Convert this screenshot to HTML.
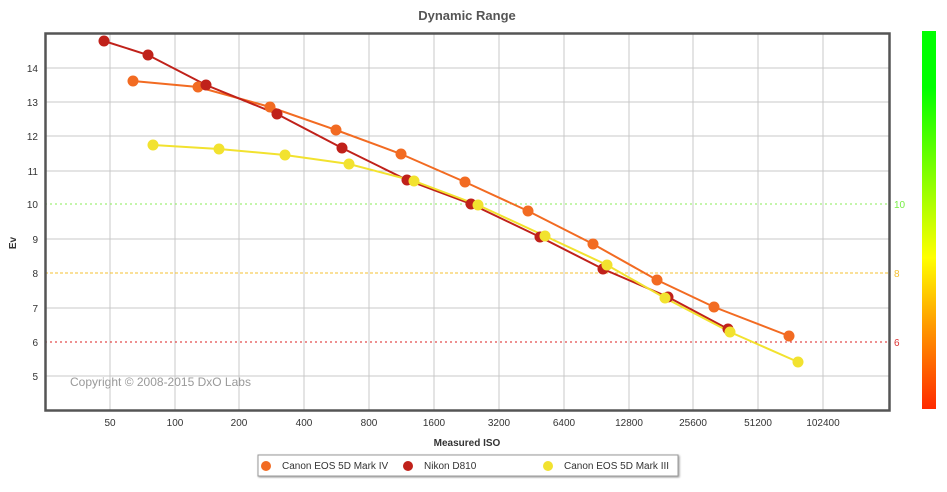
<!DOCTYPE html>
<html><head><style>
body{margin:0;background:#fff;}
svg{display:block;font-family:"Liberation Sans",sans-serif;}
</style></head><body>
<svg width="947" height="492" xmlns="http://www.w3.org/2000/svg">
<defs>
<linearGradient id="cb" x1="0" y1="0" x2="0" y2="1">
<stop offset="0" stop-color="#00ff00"/>
<stop offset="0.15" stop-color="#00ff00"/>
<stop offset="0.6" stop-color="#ffff00"/>
<stop offset="0.78" stop-color="#ff9a00"/>
<stop offset="1" stop-color="#ff2a00"/>
</linearGradient>
<filter id="sh"><feDropShadow dx="1" dy="1" stdDeviation="1" flood-opacity="0.4"/></filter>
</defs>
<text x="467" y="20" text-anchor="middle" font-size="13" font-weight="bold" fill="#555">Dynamic Range</text>
<g stroke="#c8c8c8" stroke-width="1">
<line x1="110" y1="33" x2="110" y2="410"/><line x1="175" y1="33" x2="175" y2="410"/>
<line x1="239" y1="33" x2="239" y2="410"/><line x1="304" y1="33" x2="304" y2="410"/>
<line x1="369" y1="33" x2="369" y2="410"/><line x1="434" y1="33" x2="434" y2="410"/>
<line x1="499" y1="33" x2="499" y2="410"/><line x1="564" y1="33" x2="564" y2="410"/>
<line x1="629" y1="33" x2="629" y2="410"/><line x1="693" y1="33" x2="693" y2="410"/>
<line x1="758" y1="33" x2="758" y2="410"/><line x1="823" y1="33" x2="823" y2="410"/>
<line x1="45" y1="68" x2="889" y2="68"/><line x1="45" y1="102" x2="889" y2="102"/>
<line x1="45" y1="136" x2="889" y2="136"/><line x1="45" y1="171" x2="889" y2="171"/>
<line x1="45" y1="239" x2="889" y2="239"/><line x1="45" y1="308" x2="889" y2="308"/>
<line x1="45" y1="376" x2="889" y2="376"/>
</g>
<line x1="45" y1="204" x2="889" y2="204" stroke="#88ee55" stroke-dasharray="2,3"/>
<line x1="45" y1="273" x2="889" y2="273" stroke="#f5c030" stroke-dasharray="3,2"/>
<line x1="45" y1="342" x2="889" y2="342" stroke="#dd2222" stroke-dasharray="2,3"/>
<g font-size="10" fill="#333" text-anchor="end">
<text x="38" y="72">14</text><text x="38" y="106">13</text><text x="38" y="140">12</text>
<text x="38" y="175">11</text><text x="38" y="208">10</text><text x="38" y="243">9</text>
<text x="38" y="277">8</text><text x="38" y="312">7</text><text x="38" y="346">6</text><text x="38" y="380">5</text>
</g>
<g font-size="10">
<text x="894" y="208" fill="#77ee44">10</text><text x="894" y="277" fill="#f5c030">8</text><text x="894" y="346" fill="#dd3333">6</text>
</g>
<g font-size="10" fill="#333" text-anchor="middle">
<text x="110" y="426">50</text><text x="175" y="426">100</text><text x="239" y="426">200</text>
<text x="304" y="426">400</text><text x="369" y="426">800</text><text x="434" y="426">1600</text>
<text x="499" y="426">3200</text><text x="564" y="426">6400</text><text x="629" y="426">12800</text>
<text x="693" y="426">25600</text><text x="758" y="426">51200</text><text x="823" y="426">102400</text>
</g>
<text x="467" y="446" text-anchor="middle" font-size="10" font-weight="bold" fill="#333">Measured ISO</text>
<text x="16" y="243" text-anchor="middle" font-size="10" font-weight="bold" fill="#333" transform="rotate(-90 16 243)">Ev</text>
<text x="70" y="386" font-size="12" fill="#999">Copyright © 2008-2015 DxO Labs</text>
<rect x="922" y="31" width="14" height="378" fill="url(#cb)"/>
<polyline fill="none" stroke="#f26b22" stroke-width="2" points="133,81 198,87 270,107 336,130 401,154 465,182 528,211 593,244 657,280 714,307 789,336"/>
<polyline fill="none" stroke="#c0211a" stroke-width="2" points="104,41 148,55 206,85 277,114 342,148 407,180 471,204 540,237 603,269 668,297 728,329"/>
<polyline fill="none" stroke="#f2e22f" stroke-width="2" points="153,145 219,149 285,155 349,164 414,181 478,205 545,236 607,265 665,298 730,332 798,362"/>
<g fill="#f26b22"><circle cx="133" cy="81" r="5.5"/><circle cx="198" cy="87" r="5.5"/><circle cx="270" cy="107" r="5.5"/><circle cx="336" cy="130" r="5.5"/><circle cx="401" cy="154" r="5.5"/><circle cx="465" cy="182" r="5.5"/><circle cx="528" cy="211" r="5.5"/><circle cx="593" cy="244" r="5.5"/><circle cx="657" cy="280" r="5.5"/><circle cx="714" cy="307" r="5.5"/><circle cx="789" cy="336" r="5.5"/></g>
<g fill="#c0211a"><circle cx="104" cy="41" r="5.5"/><circle cx="148" cy="55" r="5.5"/><circle cx="206" cy="85" r="5.5"/><circle cx="277" cy="114" r="5.5"/><circle cx="342" cy="148" r="5.5"/><circle cx="407" cy="180" r="5.5"/><circle cx="471" cy="204" r="5.5"/><circle cx="540" cy="237" r="5.5"/><circle cx="603" cy="269" r="5.5"/><circle cx="668" cy="297" r="5.5"/><circle cx="728" cy="329" r="5.5"/></g>
<g fill="#f2e22f"><circle cx="153" cy="145" r="5.5"/><circle cx="219" cy="149" r="5.5"/><circle cx="285" cy="155" r="5.5"/><circle cx="349" cy="164" r="5.5"/><circle cx="414" cy="181" r="5.5"/><circle cx="478" cy="205" r="5.5"/><circle cx="545" cy="236" r="5.5"/><circle cx="607" cy="265" r="5.5"/><circle cx="665" cy="298" r="5.5"/><circle cx="730" cy="332" r="5.5"/><circle cx="798" cy="362" r="5.5"/></g>
<rect x="45.5" y="33.5" width="844" height="377" fill="none" stroke="#555" stroke-width="2.5"/>
<rect x="258" y="455" width="420" height="21" fill="#fff" stroke="#999" filter="url(#sh)"/>
<g font-size="10" fill="#333">
<circle cx="266" cy="466" r="5" fill="#f26b22"/><text x="282" y="469">Canon EOS 5D Mark IV</text>
<circle cx="408" cy="466" r="5" fill="#c0211a"/><text x="424" y="469">Nikon D810</text>
<circle cx="548" cy="466" r="5" fill="#f2e22f"/><text x="564" y="469">Canon EOS 5D Mark III</text>
</g>
</svg>
</body></html>
